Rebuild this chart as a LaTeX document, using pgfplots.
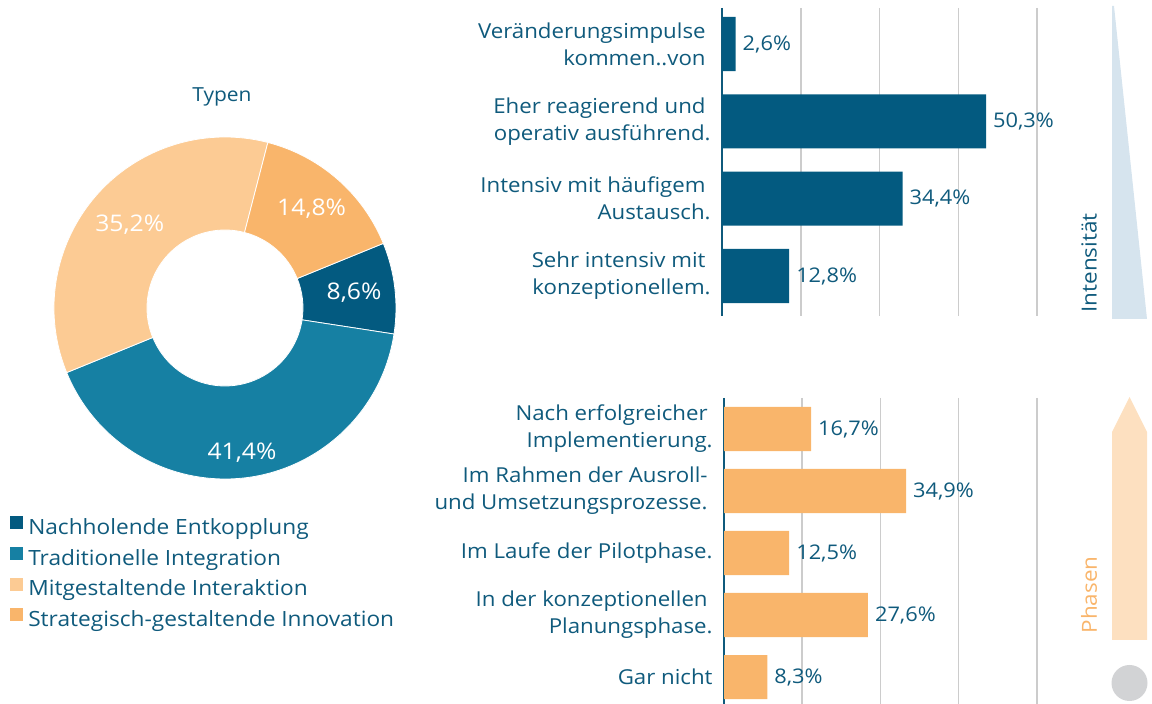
\documentclass[border=0pt]{standalone}
\usepackage{fontspec}
\setmainfont[FakeStretch=1.08]{Open Sans}
\usepackage{pgfplots}
\usepackage{pgfplotstable}
\pgfplotsset{compat=1.18}
\definecolor{cNavy}{HTML}{035A80}
\definecolor{cTeal}{HTML}{1680A3}
\definecolor{cPeach}{HTML}{FCCB94}
\definecolor{cOrange}{HTML}{F9B56B}
\definecolor{cText}{HTML}{0F5A7C}
\definecolor{cGrid}{HTML}{CCCCCC}
\definecolor{cWedge}{HTML}{D6E4EE}
\definecolor{cArrow}{HTML}{FDE0C0}
\definecolor{cCircle}{HTML}{D2D3D5}
\newcommand\tsp{\hspace*{2.5pt}}
\pgfkeys{/pgf/number format/assume math mode=true}

\pgfplotstableread{
y val
0 2.6
1 50.3
2 34.4
3 12.8
}\topdata
\pgfplotstableread{
y val
0 16.7
1 34.9
2 12.5
3 27.6
4 8.3
}\botdata
\pgfplotstableread{
value r color
8.6 0.76 cNavy
41.4 0.85 cTeal
35.2 0.74 cPeach
14.8 0.77 cOrange
}\piedata

\pgfplotsset{
  mybars/.style={
    scale only axis, xbar, y dir=reverse, clip=false,
    xmin=0, xmax=60,
    axis x line*=bottom, axis y line*=left,
    x axis line style={draw=none},
    y axis line style={draw=cText, line width=0.55pt, -},
    xtick={15,30,45,60}, xticklabels={},
    xmajorgrids, major grid style={draw=cGrid, line width=0.75pt},
    major tick length=0pt,
    tick style={draw=none},
    yticklabel style={align=right, anchor=east, inner sep=0pt, xshift=-5.5pt,
      font=\fontsize{10.3}{13.5}\selectfont, text=cText},
    point meta=x,
    nodes near coords={\pgfmathprintnumber[use comma, fixed, precision=1, fixed zerofill]{\pgfplotspointmeta}\%},
    nodes near coords style={anchor=west, font=\fontsize{10.1}{12}\selectfont, text=cText},
  }
}

\begin{document}
\begin{tikzpicture}
\path[use as bounding box] (0,0) rectangle (576pt,352pt);

% decorations on the right
\fill[cWedge] (556pt,349pt) -- (556pt,192.5pt) -- (573.5pt,192.5pt) -- (557pt,349pt) -- cycle;
\fill[cArrow] (556pt,32pt) -- (556pt,136pt) -- (564.75pt,153.5pt) -- (573.5pt,136pt) -- (573.5pt,32pt) -- cycle;
\fill[cCircle] (564.75pt,10.5pt) circle[radius=9pt];
\node[rotate=90, text=cText, font=\fontsize{10.4}{12}\selectfont] at (544.5pt,220.5pt) {Intensität};
\node[rotate=90, text=cOrange, font=\fontsize{10.4}{12}\selectfont] at (544.5pt,54.5pt) {Phasen};

% top bars
\begin{axis}[mybars,
  at={(361pt,348pt)}, anchor=north west,
  width=157.5pt, height=154pt,
  ymin=-0.466, ymax=3.517, bar width=0.7,
  ytick={0,1,2,3},
  yticklabels={{Veränderungsimpulse\tsp\\kommen..von\tsp},
    {Eher reagierend und\tsp\\operativ ausführend.},
    {Intensiv mit häufigem\tsp\\Austausch.},
    {Sehr intensiv mit\tsp\\konzeptionellem.}},
]
\addplot[fill=cNavy, draw=none] table[x=val, y=y] {\topdata};
\end{axis}

% bottom bars
\begin{axis}[mybars,
  at={(362pt,153pt)}, anchor=north west,
  width=156.5pt, height=153pt,
  ymin=-0.5, ymax=4.435, bar width=0.71,
  ytick={0,1,2,3,4},
  yticklabels={{Nach erfolgreicher\tsp\\Implementierung.},
    {Im Rahmen der Ausroll-\tsp\\und Umsetzungsprozesse.\tsp},
    {Im Laufe der Pilotphase.},
    {In der konzeptionellen\tsp\\Planungsphase.},
    {Gar nicht}},
]
\addplot[fill=cOrange, draw=none] table[x=val, y=y] {\botdata};
\end{axis}

% donut
\node[text=cText, font=\fontsize{9.7}{12}\selectfont] at (111pt,303.5pt) {Typen};
\begin{axis}[
  at={(112.5pt,198pt)}, anchor=center,
  scale only axis, width=171pt, height=171pt,
  xmin=-1, xmax=1, ymin=-1, ymax=1,
  hide axis, clip=false,
  legend style={at={(-0.129,-0.108)}, anchor=north west, draw=none, fill=none,
    font=\fontsize{10.5}{11}\selectfont, text=cText, inner sep=0pt,
    row sep=4.2pt, column sep=2.5pt,
    nodes={inner sep=0pt, text height=7.2pt, text depth=2pt}},
  legend cell align=left,
  legend image code/.code={\fill[#1, draw=none] (0pt,0pt) rectangle (6.5pt,6.5pt);},
]
\pgfmathsetmacro\cum{22.2}
\pgfplotsforeachungrouped \i in {0,...,3} {
  \pgfplotstablegetelem{\i}{value}\of\piedata \let\v\pgfplotsretval
  \pgfplotstablegetelem{\i}{r}\of\piedata \let\lr\pgfplotsretval
  \pgfplotstablegetelem{\i}{color}\of\piedata \let\c\pgfplotsretval
  \pgfmathsetmacro\a{\cum}
  \pgfmathsetmacro\b{\cum-3.6*\v}
  \pgfmathsetmacro\m{(\a+\b)/2}
  \edef\temp{\noexpand\fill[\c, draw=white, line width=0.4pt] (axis cs:{cos(\a)},{sin(\a)}) arc[start angle=\a, end angle=\b, radius=85.5pt] -- (axis cs:{0.456*cos(\b)},{0.456*sin(\b)}) arc[start angle=\b, end angle=\a, radius=39pt] -- cycle;}
  \temp
  \edef\temp{\noexpand\node[text=white, font=\noexpand\fontsize{11.45}{13}\noexpand\selectfont] at (axis cs:{\lr*cos(\m)},{\lr*sin(\m)}) {\noexpand\pgfmathprintnumber[use comma, fixed, precision=1, fixed zerofill]{\v}\noexpand\%};}
  \temp
  \global\let\cum\b
}
\addlegendimage{fill=cNavy}\addlegendentry{Nachholende Entkopplung}
\addlegendimage{fill=cTeal}\addlegendentry{Traditionelle Integration}
\addlegendimage{fill=cPeach}\addlegendentry{Mitgestaltende Interaktion}
\addlegendimage{fill=cOrange}\addlegendentry{Strategisch-gestaltende Innovation}
\end{axis}
\end{tikzpicture}
\end{document}
